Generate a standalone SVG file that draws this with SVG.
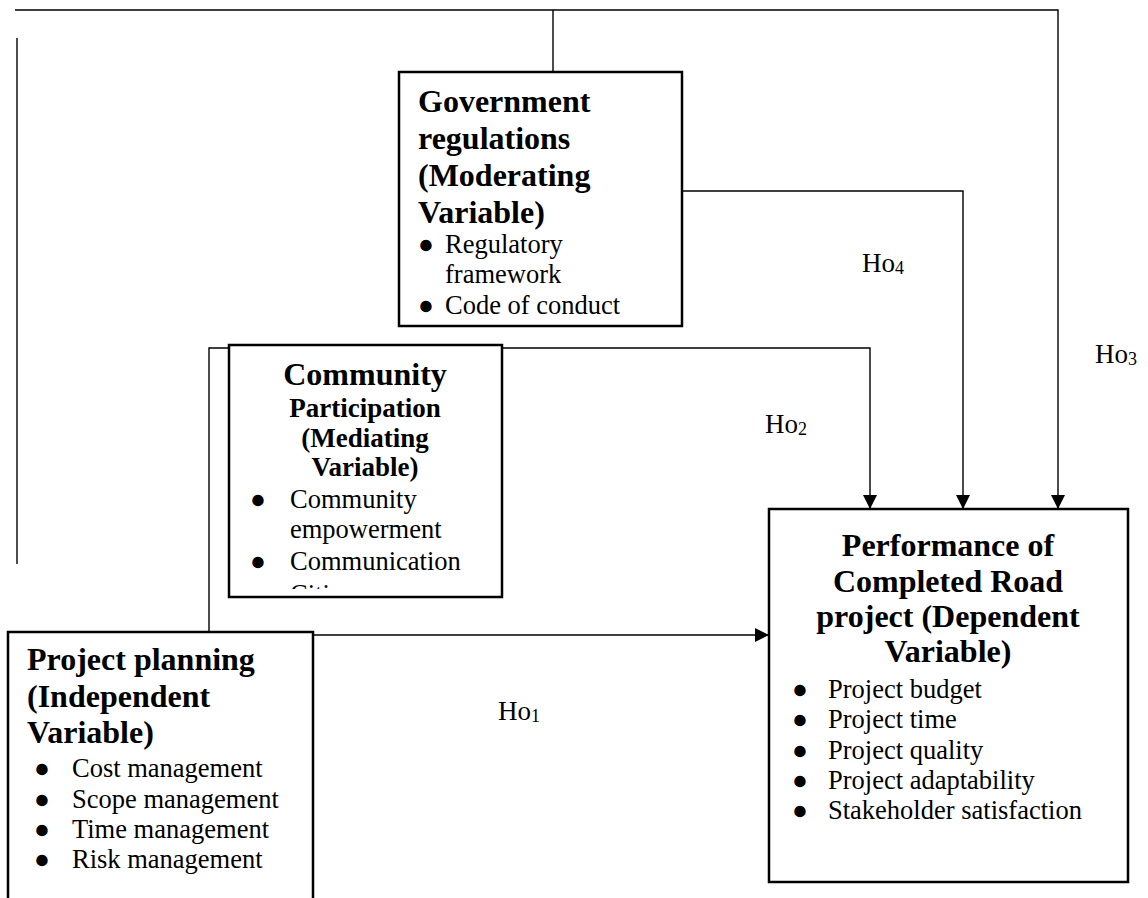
<svg xmlns="http://www.w3.org/2000/svg" width="1148" height="898" viewBox="0 0 1148 898">
<style>
.box{fill:#fff;stroke:#000;stroke-width:2.5}
.ln{fill:none;stroke:#000;stroke-width:1.4}
.h{font-family:"Liberation Serif","Times New Roman",serif;font-weight:bold;font-size:32px;fill:#000}
.hs{font-family:"Liberation Serif","Times New Roman",serif;font-weight:bold;font-size:27px;fill:#000}
.t{font-family:"Liberation Serif","Times New Roman",serif;font-size:26.5px;fill:#000}
.lab{font-family:"Liberation Serif","Times New Roman",serif;font-size:27px;fill:#000}
</style>
<defs>
<marker id="arr" viewBox="0 0 10 10" refX="10" refY="5" markerWidth="14" markerHeight="14" markerUnits="userSpaceOnUse" orient="auto">
<path d="M0,0 L10,5 L0,10 z" fill="#000"/>
</marker>
<clipPath id="cclip"><rect x="232" y="348" width="267" height="241"/></clipPath>
</defs>
<rect width="1148" height="898" fill="#fff"/>
<g id="connectors">
<path class="ln" d="M15,10 H1058 V509" marker-end="url(#arr)"/>
<path class="ln" d="M553,10 V72" stroke-width="2.4"/>
<path class="ln" d="M17,38 V564" stroke-width="1.6"/>
<path class="ln" d="M682,191 H963 V509" marker-end="url(#arr)"/>
<path class="ln" d="M209,632 V348 H870 V509" marker-end="url(#arr)"/>
<path class="ln" d="M313,635 H769" marker-end="url(#arr)"/>
<text class="lab" x="862" y="272">Ho<tspan font-size="18" dy="2">4</tspan></text>
<text class="lab" x="1095" y="363">Ho<tspan font-size="18" dy="2">3</tspan></text>
<text class="lab" x="765" y="433">Ho<tspan font-size="18" dy="2">2</tspan></text>
<text class="lab" x="498" y="720">Ho<tspan font-size="18" dy="2">1</tspan></text>
</g>
<g id="government">
<rect class="box" x="399" y="72" width="283" height="254"/>
<text class="h" x="418" y="112">Government</text>
<text class="h" x="418" y="149">regulations</text>
<text class="h" x="418" y="186">(Moderating</text>
<text class="h" x="418" y="223">Variable)</text>
<text class="t" x="418" y="253">●</text><text class="t" x="445" y="253">Regulatory</text>
<text class="t" x="445" y="283">framework</text>
<text class="t" x="418" y="314">●</text><text class="t" x="445" y="314">Code of conduct</text>
</g>
<g id="community">
<rect class="box" x="229" y="345" width="273" height="252"/>
<text class="h" x="365" y="385" text-anchor="middle">Community</text>
<text class="hs" x="365" y="417" text-anchor="middle">Participation</text>
<text class="hs" x="365" y="447" text-anchor="middle">(Mediating</text>
<text class="hs" x="365" y="476" text-anchor="middle">Variable)</text>
<text class="t" x="250" y="508">●</text><text class="t" x="290" y="508">Community</text>
<text class="t" x="290" y="538">empowerment</text>
<text class="t" x="250" y="570">●</text><text class="t" x="290" y="570">Communication</text>
<g clip-path="url(#cclip)">
<text class="t" x="250" y="603">●</text><text class="t" x="290" y="603">Citizen</text>
</g>
</g>
<g id="planning">
<path class="box" d="M8,898 V632 H313 V898"/>
<text class="h" x="27" y="670">Project planning</text>
<text class="h" x="27" y="707">(Independent</text>
<text class="h" x="27" y="743">Variable)</text>
<text class="t" x="34" y="777">●</text><text class="t" x="72" y="777">Cost management</text>
<text class="t" x="34" y="808">●</text><text class="t" x="72" y="808">Scope management</text>
<text class="t" x="34" y="838">●</text><text class="t" x="72" y="838">Time management</text>
<text class="t" x="34" y="868">●</text><text class="t" x="72" y="868">Risk management</text>
</g>
<g id="performance">
<rect class="box" x="769" y="509" width="359" height="373"/>
<text class="h" x="948" y="556" text-anchor="middle">Performance of</text>
<text class="h" x="948" y="592" text-anchor="middle">Completed Road</text>
<text class="h" x="948" y="627" text-anchor="middle">project (Dependent</text>
<text class="h" x="948" y="662" text-anchor="middle">Variable)</text>
<text class="t" x="792" y="698">●</text><text class="t" x="828" y="698">Project budget</text>
<text class="t" x="792" y="728">●</text><text class="t" x="828" y="728">Project time</text>
<text class="t" x="792" y="759">●</text><text class="t" x="828" y="759">Project quality</text>
<text class="t" x="792" y="789">●</text><text class="t" x="828" y="789">Project adaptability</text>
<text class="t" x="792" y="819">●</text><text class="t" x="828" y="819">Stakeholder satisfaction</text>
</g>
</svg>
